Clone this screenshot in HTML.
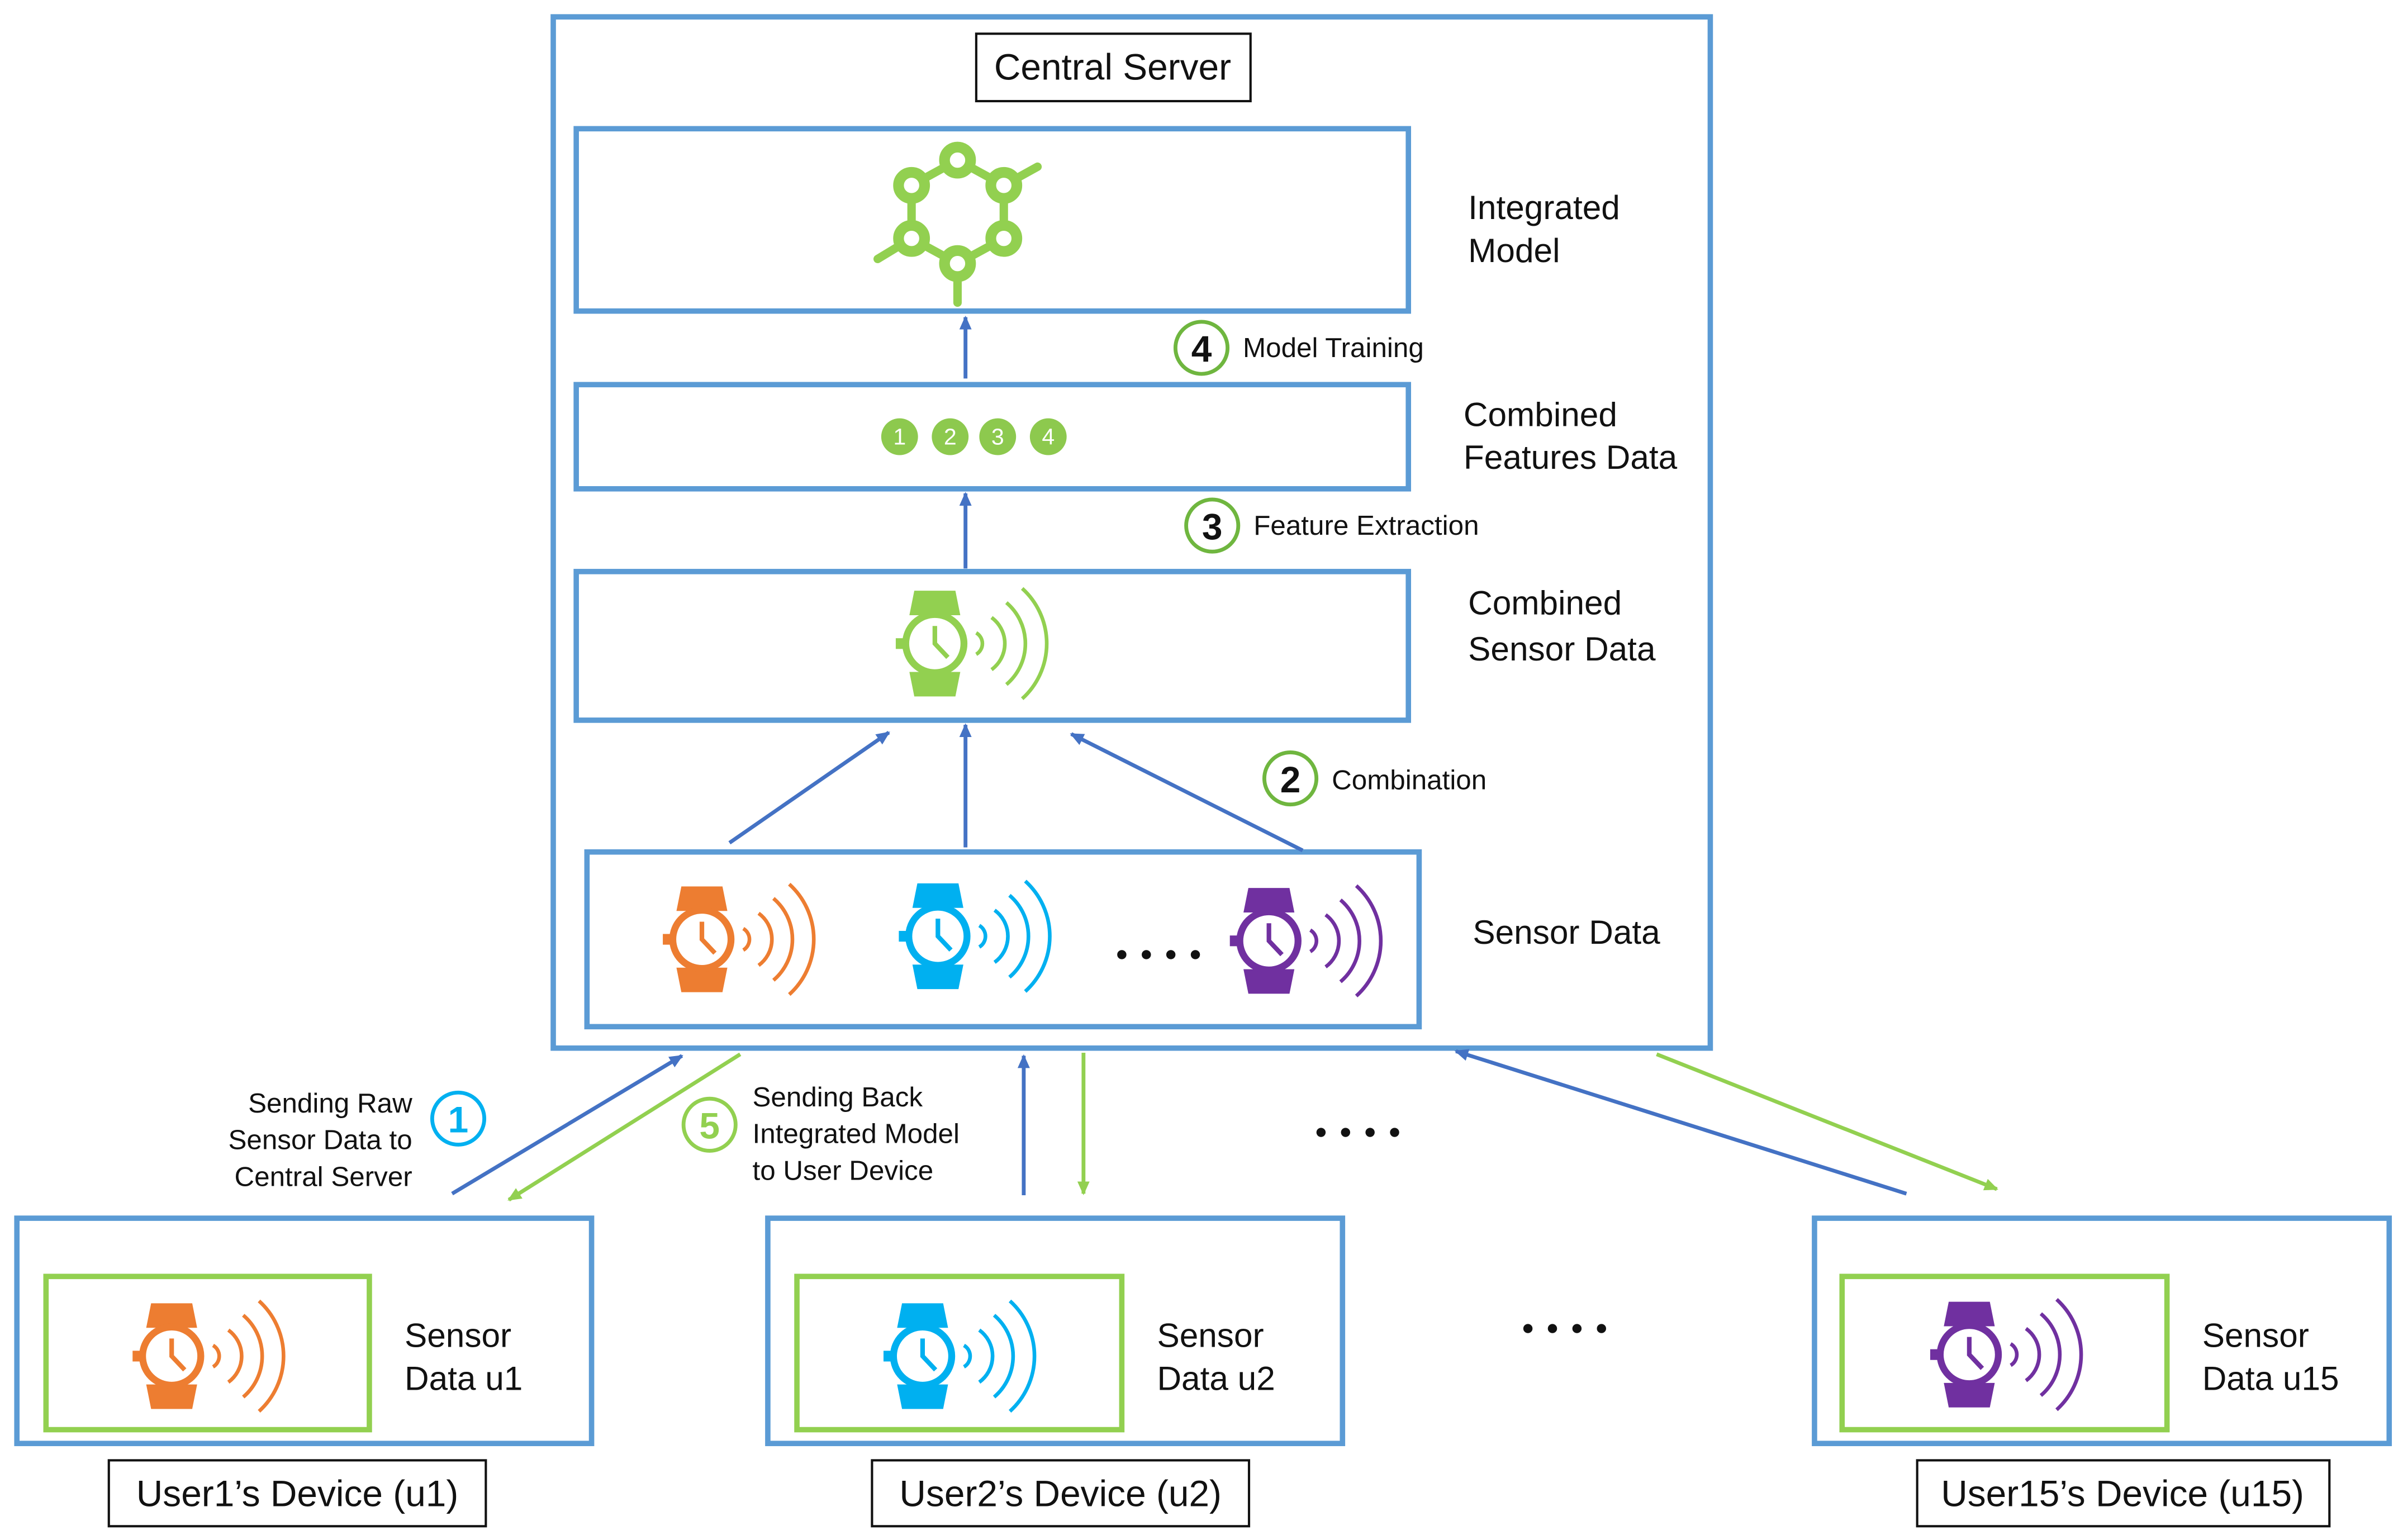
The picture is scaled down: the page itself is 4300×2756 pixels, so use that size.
<!DOCTYPE html>
<html><head><meta charset="utf-8"><style>
html,body{margin:0;padding:0;background:#fff}
svg{display:block}
text{font-family:"Liberation Sans",sans-serif;fill:#111}
</style></head><body>
<svg width="4300" height="2756" viewBox="0 0 1568 1005" xmlns="http://www.w3.org/2000/svg">
<defs>
<g id="w">
  <path d="M-13,-34 L13,-34 L16,-19 L-16,-19 Z"/>
  <path d="M-16,19 L16,19 L13,34 L-13,34 Z"/>
  <circle cx="0" cy="0" r="19" fill="none" stroke-width="4.5"/>
  <rect x="-25" y="-3" width="5" height="6"/>
  <path d="M0,-11.5 L0,0 L8.5,9" fill="none" stroke-width="3"/>
  <g fill="none" stroke-width="2.4">
    <path d="M27,-7 A8.1,8.1 0 0 1 27,7"/>
    <path d="M37,-17 A21,21 0 0 1 37,17"/>
    <path d="M46.7,-26.7 A35,35 0 0 1 46.7,26.7"/>
    <path d="M57,-36 A48.5,48.5 0 0 1 57,36"/>
  </g>
</g>
<marker id="ab" markerWidth="10" markerHeight="10" refX="8" refY="5" orient="auto" markerUnits="userSpaceOnUse"><path d="M0,1 L9,5 L0,9 Z" fill="#4472c4"/></marker>
<marker id="ag" markerWidth="10" markerHeight="10" refX="8" refY="5" orient="auto" markerUnits="userSpaceOnUse"><path d="M0,1 L9,5 L0,9 Z" fill="#92d050"/></marker>
</defs>

<g fill="none" stroke="#5b9bd5" stroke-width="3.5">
<rect x="361" y="11" width="755" height="673"/>
<rect x="376" y="84" width="543" height="119"/>
<rect x="376" y="251" width="543" height="68"/>
<rect x="376" y="373" width="543" height="97"/>
<rect x="383" y="556" width="543" height="114"/>
<rect x="11" y="795" width="375" height="147"/>
<rect x="501" y="795" width="375" height="147"/>
<rect x="1184" y="795" width="375" height="147"/>
</g>
<g fill="none" stroke="#92d050" stroke-width="3.5">
<rect x="30" y="833" width="211" height="100"/>
<rect x="520" y="833" width="212" height="100"/>
<rect x="1202" y="833" width="212" height="100"/>
</g>
<g fill="none" stroke="#111" stroke-width="1.5">
<rect x="637" y="22" width="179" height="44"/>
<rect x="71" y="953" width="246" height="43"/>
<rect x="569" y="953" width="246" height="43"/>
<rect x="1251" y="953" width="269" height="43"/>
</g>
<g font-size="24" text-anchor="middle">
<text x="726" y="52">Central Server</text>
<text x="194" y="983">User1’s Device (u1)</text>
<text x="692" y="983">User2’s Device (u2)</text>
<text x="1385" y="983">User15’s Device (u15)</text>
</g>
<g font-size="22">
<text x="958" y="143">Integrated</text><text x="958" y="171">Model</text>
<text x="955" y="278">Combined</text><text x="955" y="306">Features Data</text>
<text x="958" y="401">Combined</text><text x="958" y="431">Sensor Data</text>
<text x="961" y="616">Sensor Data</text>
<text x="264" y="879">Sensor</text><text x="264" y="907">Data u1</text>
<text x="755" y="879">Sensor</text><text x="755" y="907">Data u2</text>
<text x="1437" y="879">Sensor</text><text x="1437" y="907">Data u15</text>
</g>

<!-- molecule -->
<g stroke="#92d050" fill="none" stroke-linecap="round">
<g stroke-width="5.5">
<path d="M624.8,104.5 L655,121 L655,155.6 L624.8,172 L594.8,155.6 L594.8,121 Z"/>
<path d="M655,121 L677,108.8 M594.8,155.6 L572.7,169 M624.8,172 L624.8,197.5"/>
</g>
<g stroke-width="7" fill="#fff">
<circle cx="624.8" cy="104.5" r="8.5"/><circle cx="655" cy="121" r="8.5"/><circle cx="655" cy="155.6" r="8.5"/>
<circle cx="624.8" cy="172" r="8.5"/><circle cx="594.8" cy="155.6" r="8.5"/><circle cx="594.8" cy="121" r="8.5"/>
</g>
</g>

<!-- numbered circles -->
<g fill="#8dc94e"><circle cx="587" cy="285" r="12"/><circle cx="620" cy="285" r="12"/><circle cx="651" cy="285" r="12"/><circle cx="684" cy="285" r="12"/></g>
<g font-size="15" text-anchor="middle" style="fill:#fff"><text x="587" y="290" style="fill:#fff">1</text><text x="620" y="290" style="fill:#fff">2</text><text x="651" y="290" style="fill:#fff">3</text><text x="684" y="290" style="fill:#fff">4</text></g>

<!-- watches -->
<use href="#w" x="610" y="420" fill="#92d050" stroke="#92d050"/>
<use href="#w" x="458" y="613" fill="#ed7d31" stroke="#ed7d31"/>
<use href="#w" x="612" y="611" fill="#00b0f0" stroke="#00b0f0"/>
<use href="#w" x="828" y="614" fill="#7030a0" stroke="#7030a0"/>
<use href="#w" x="112" y="885" fill="#ed7d31" stroke="#ed7d31"/>
<use href="#w" x="602" y="885" fill="#00b0f0" stroke="#00b0f0"/>
<use href="#w" x="1285" y="884" fill="#7030a0" stroke="#7030a0"/>

<!-- dots -->
<g fill="#111">
<circle cx="732" cy="623" r="3"/><circle cx="748" cy="623" r="3"/><circle cx="764" cy="623" r="3"/><circle cx="780" cy="623" r="3"/>
<circle cx="862" cy="739" r="3"/><circle cx="878" cy="739" r="3"/><circle cx="894" cy="739" r="3"/><circle cx="910" cy="739" r="3"/>
<circle cx="997" cy="867" r="3"/><circle cx="1013" cy="867" r="3"/><circle cx="1029" cy="867" r="3"/><circle cx="1045" cy="867" r="3"/>
</g>

<!-- arrows -->
<g stroke="#4472c4" stroke-width="2.5" fill="none" marker-end="url(#ab)">
<line x1="630" y1="247" x2="630" y2="207"/>
<line x1="630" y1="371" x2="630" y2="322"/>
<line x1="476" y1="550" x2="580" y2="478"/>
<line x1="630" y1="553" x2="630" y2="473"/>
<line x1="850" y1="555" x2="699" y2="479"/>
<line x1="295" y1="779" x2="445" y2="689"/>
<line x1="668" y1="780" x2="668" y2="689"/>
<line x1="1244" y1="779" x2="950" y2="686"/>
</g>
<g stroke="#92d050" stroke-width="2.5" fill="none" marker-end="url(#ag)">
<line x1="483" y1="688" x2="332" y2="783"/>
<line x1="707" y1="687" x2="707" y2="779"/>
<line x1="1081" y1="688" x2="1303" y2="776"/>
</g>

<!-- badges -->
<g fill="#fff" stroke-width="2.5">
<circle cx="784" cy="227" r="17" stroke="#6fb63f"/>
<circle cx="791" cy="343" r="17" stroke="#6fb63f"/>
<circle cx="842" cy="508" r="17" stroke="#6fb63f"/>
<circle cx="299" cy="730" r="17" stroke="#00b0f0"/>
<circle cx="463" cy="734" r="17" stroke="#92d050"/>
</g>
<g font-size="24" font-weight="bold" text-anchor="middle">
<text x="784" y="236">4</text><text x="791" y="352">3</text><text x="842" y="517">2</text>
<text x="299" y="739" style="fill:#00b0f0">1</text><text x="463" y="743" style="fill:#92d050">5</text>
</g>
<g font-size="18">
<text x="811" y="233">Model Training</text>
<text x="818" y="349">Feature Extraction</text>
<text x="869" y="515">Combination</text>
<text x="491" y="722">Sending Back</text><text x="491" y="746">Integrated Model</text><text x="491" y="770">to User Device</text>
</g>
<g font-size="18" text-anchor="end">
<text x="269" y="726">Sending Raw</text><text x="269" y="750">Sensor Data to</text><text x="269" y="774">Central Server</text>
</g>
</svg>
</body></html>
